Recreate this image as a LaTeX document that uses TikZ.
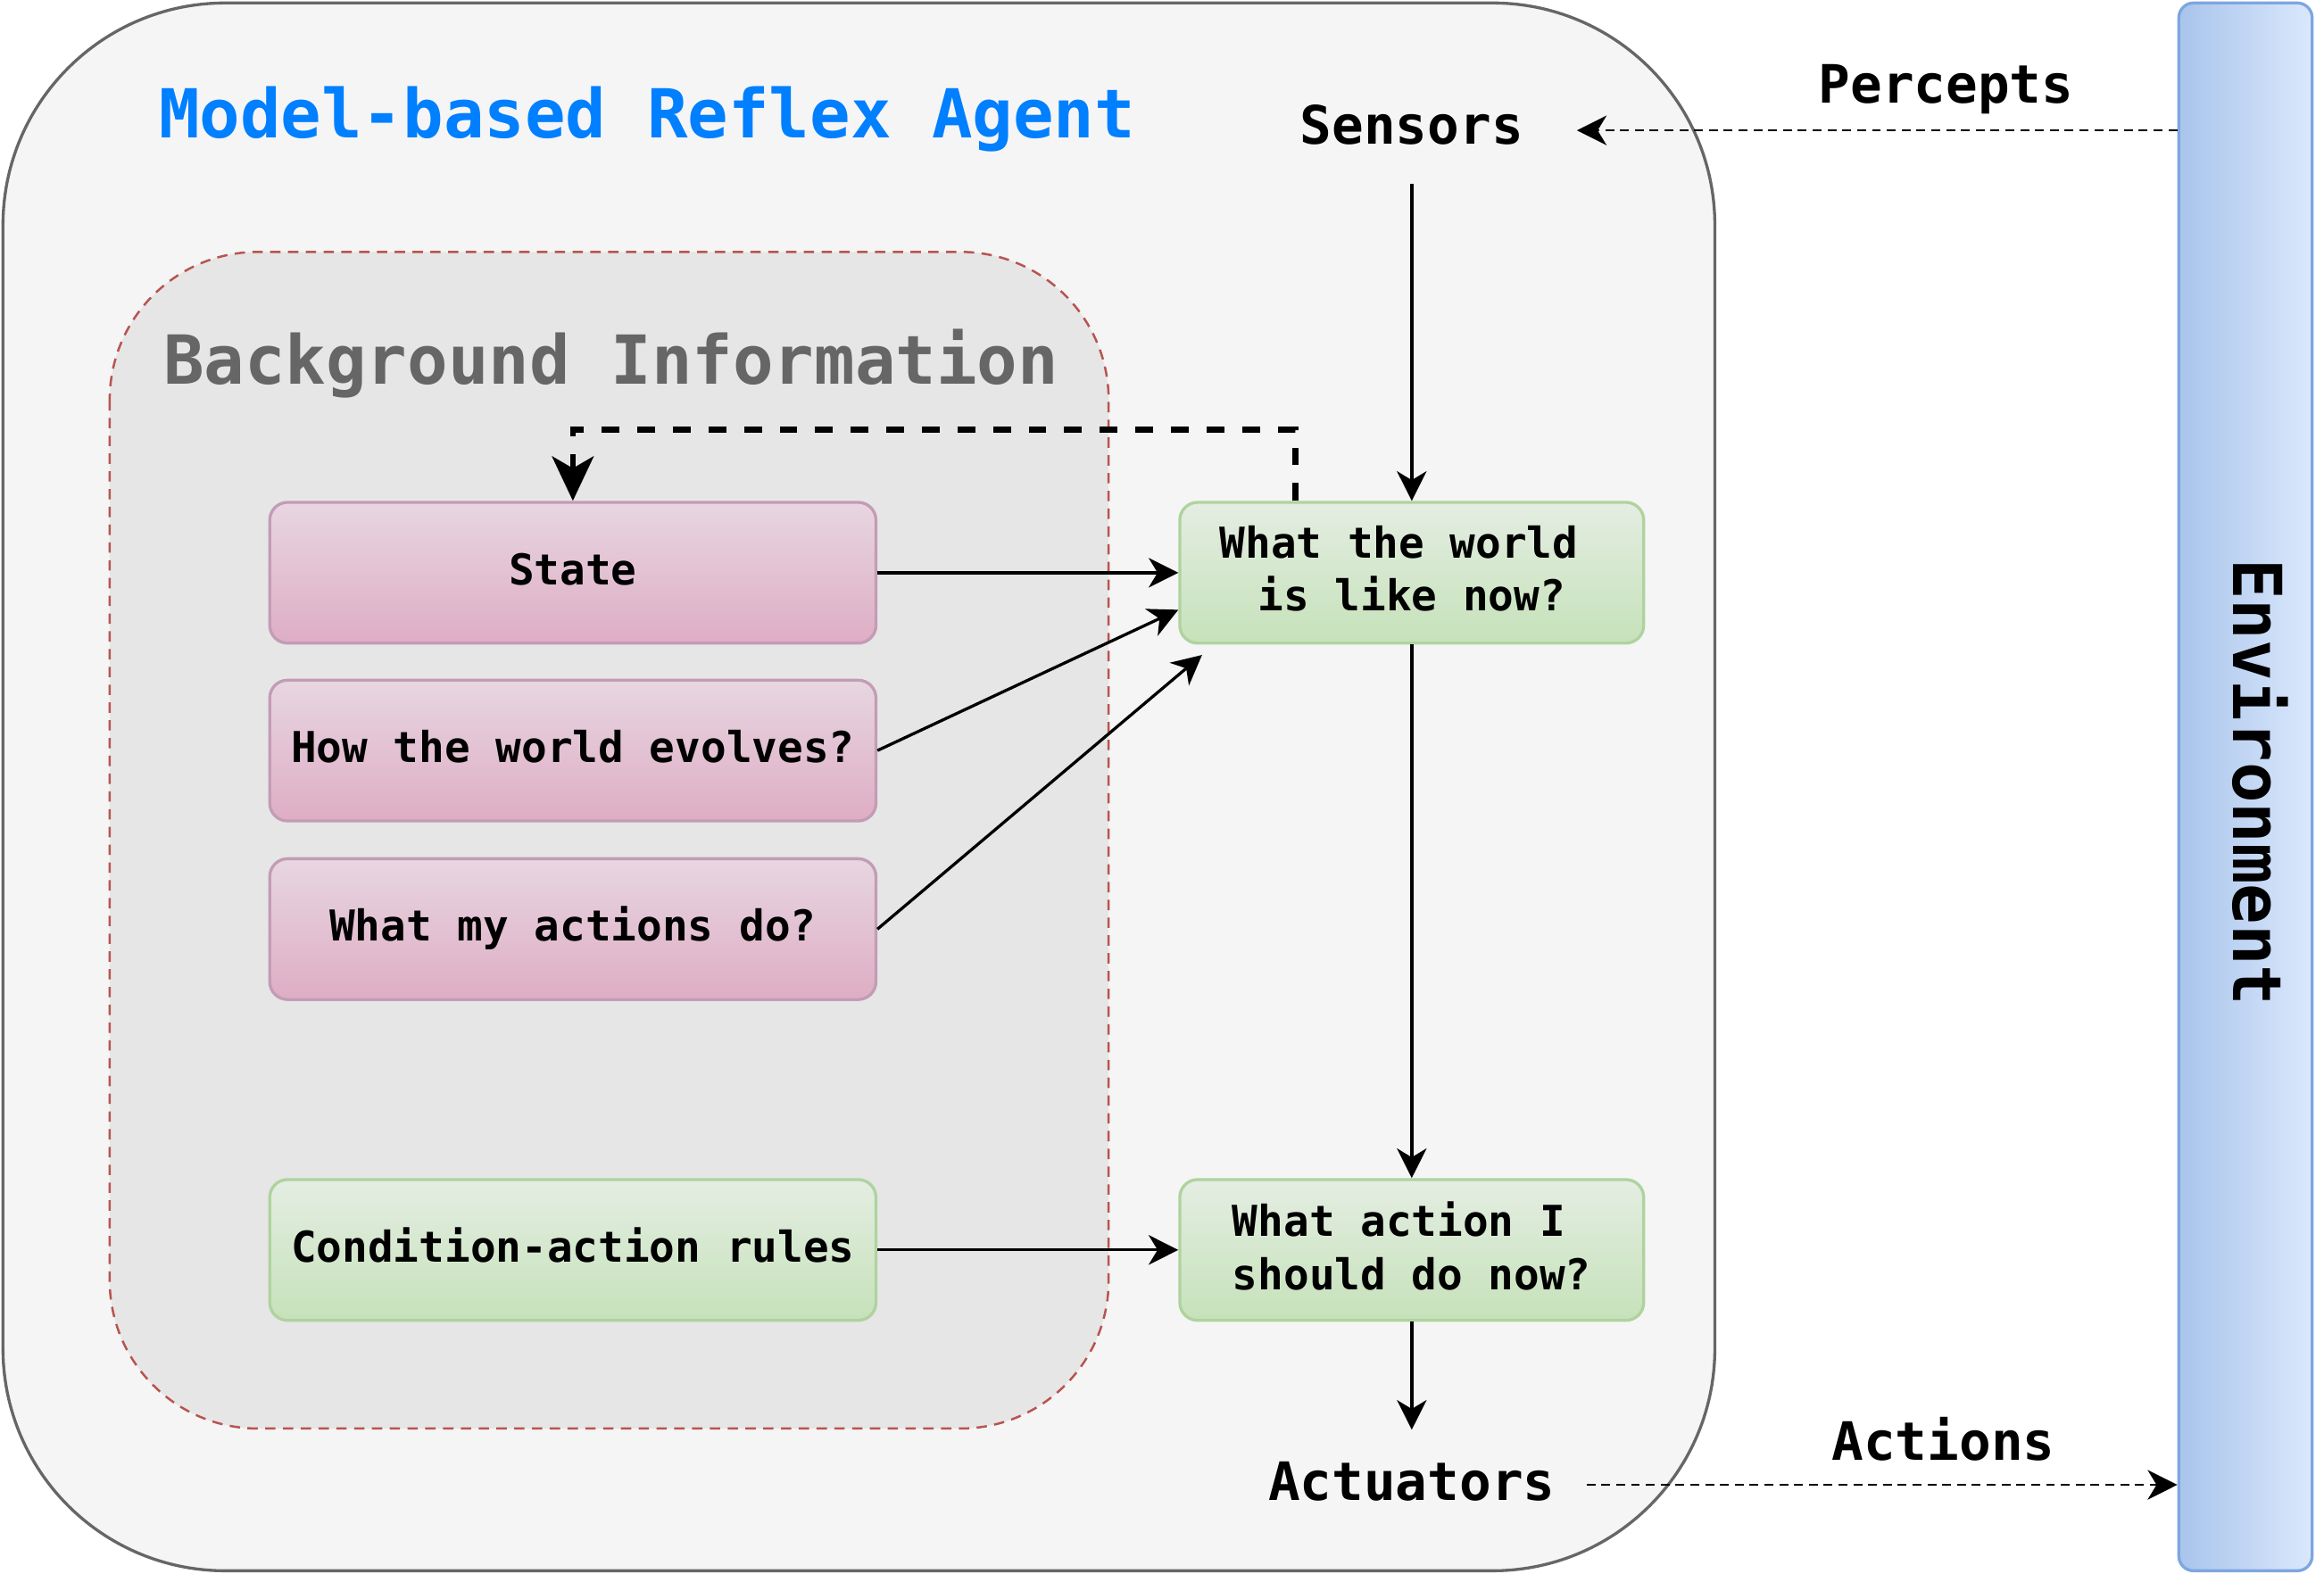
\documentclass[tikz,border=0pt]{standalone}
\usepackage{fontspec}
\setmonofont{DejaVu Sans Mono}
\usetikzlibrary{arrows.meta}

\definecolor{agentfill}{HTML}{F5F5F5}
\definecolor{agentline}{HTML}{666666}
\definecolor{bgfill}{HTML}{E6E6E6}
\definecolor{bgline}{HTML}{B85450}
\definecolor{pinktop}{HTML}{E7D6E1}
\definecolor{pinkbot}{HTML}{DEADC4}
\definecolor{pinkline}{HTML}{C39CB5}
\definecolor{greentop}{HTML}{E4EDE2}
\definecolor{greenbot}{HTML}{C6E2BA}
\definecolor{greenline}{HTML}{AFD39F}
\definecolor{envleft}{HTML}{A9C4EB}
\definecolor{envright}{HTML}{DAE8FC}
\definecolor{envline}{HTML}{7EA6E0}
\definecolor{titleblue}{HTML}{007FFF}
\definecolor{bgtext}{HTML}{666666}

\newcommand{\boxfont}{\fontsize{28.7}{36}\selectfont\ttfamily\bfseries}
\newcommand{\titlefont}{\fontsize{45.6}{54}\selectfont\ttfamily\bfseries}
\newcommand{\labelfont}{\fontsize{35.7}{42}\selectfont\ttfamily\bfseries}
\newcommand{\lowstrut}{\rule[-6pt]{0pt}{6pt}}

\tikzset{
  agentframe/.style={draw=agentline, fill=agentfill, line width=2pt, rounded corners=150pt},
  infoframe/.style={draw=bgline, fill=bgfill, line width=1.5pt, dash pattern=on 7pt off 5pt, rounded corners=100pt},
  knowbox/.style={draw=pinkline, line width=2pt, rounded corners=12pt, top color=pinktop, bottom color=pinkbot,
    minimum width=409pt, minimum height=95pt, font=\boxfont, text height=22pt, text depth=6pt},
  rulebox/.style={draw=greenline, line width=2pt, rounded corners=12pt, top color=greentop, bottom color=greenbot,
    minimum width=409pt, minimum height=95pt, font=\boxfont, align=center},
  thinkbox/.style={rulebox, minimum width=313pt},
  envbar/.style={draw=envline, line width=2pt, rounded corners=10pt, left color=envleft, right color=envright,
    minimum width=90pt, minimum height=1058pt},
  flow/.style={line width=2pt, -{Stealth[length=20pt,width=20pt,inset=6pt]}},
  signal/.style={line width=1.5pt, dash pattern=on 6pt off 4pt, -{Stealth[length=20pt,width=20pt,inset=6pt]}},
  feedback/.style={line width=4pt, dash pattern=on 12pt off 12pt, -{Stealth[length=30pt,width=28pt,inset=8pt]}},
}

\begin{document}
\begin{tikzpicture}[x=1pt,y=-1pt]
  \useasboundingbox (0,0) rectangle (1568,1062);
  % agent and its background information
  \draw[agentframe] (2,2) rectangle (1157,1060);
  \draw[infoframe] (74,170) rectangle (748,964);
  \node[anchor=base west, inner sep=0pt, font=\titlefont, text=titleblue] (title) at (107,93) {Model-based Reflex Agent};
  \node[anchor=base west, inner sep=0pt, font=\titlefont, text=bgtext] (bginfo) at (110,259) {Background Information};

  \node[knowbox] (state) at (386.5,386.5) {State};
  \node[knowbox] (evolve) at (386.5,506.5) {How the world evolves?};
  \node[knowbox] (effect) at (386.5,627) {What my actions do?};
  \node[rulebox, text height=22pt, text depth=6pt] (rules) at (386.5,843.5) {Condition-action rules};

  \node[thinkbox] (world) at (952.5,386.5) {What the world\hphantom{x}\\is like now?\lowstrut};
  \node[thinkbox] (decide) at (952.5,843.5) {What action I\hphantom{x}\\should do now?\lowstrut};

  \node[font=\labelfont, inner ysep=0pt, inner xsep=36pt, minimum height=80pt] (sensors) at (952.5,84) {Sensors};
  \node[font=\labelfont, inner ysep=0pt, inner xsep=21pt, minimum height=70pt] (actuators) at (952.5,1000) {Actuators};

  % environment
  \node[envbar] (env) at (1515,531) {};
  \node[rotate=-90, font=\titlefont] (envlabel) at (1525,528) {Environment};

  \draw[flow] (sensors.south) -- (world.north);
  \draw[flow] (world.south) -- (decide.north);
  \draw[flow] (decide.south) -- (actuators.north);
  \draw[flow] (state.east) -- (world.west);
  \draw[flow] (evolve.east) -- ([yshift=-25pt]world.west);
  \draw[flow] (effect.east) -- ([xshift=16pt,yshift=-7pt]world.south west);
  \draw[flow] (rules.east) -- (decide.west);
  \draw[feedback] ([xshift=79pt]world.north west) -- ++(0,-48) -| (state.north);

  \draw[signal] ([yshift=-4pt]sensors.east -| env.west) -- node[pos=0.385, yshift=28pt, font=\labelfont] (percepts) {Percepts} ([yshift=-4pt]sensors.east);
  \draw[signal] ([yshift=-2pt]actuators.east) -- node[pos=0.604, yshift=31pt, font=\labelfont] (actions) {Actions} ([yshift=-2pt]actuators.east -| env.west);
\end{tikzpicture}
\end{document}
